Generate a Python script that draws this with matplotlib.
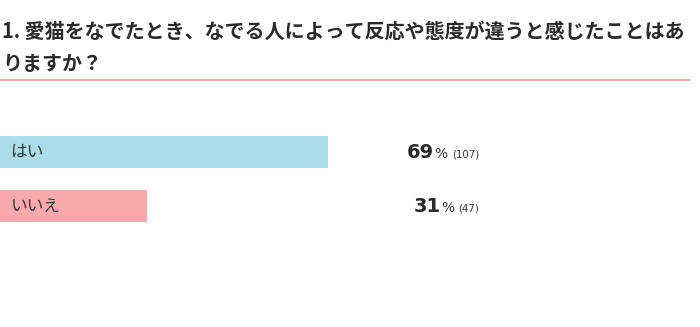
import matplotlib
matplotlib.use("Agg")
import matplotlib.pyplot as plt
from matplotlib.lines import Line2D

plt.rcParams['font.family'] = ['Noto Sans CJK JP', 'DejaVu Sans']

title_line1 = "1. 愛猫をなでたとき、なでる人によって反応や態度が違うと感じたことはあ"
title_line2 = "りますか？"
categories = ["はい", "いいえ"]
percents = [69, 31]
counts = [107, 47]
colors = ["#aadcea", "#f9a9ab"]

W, H = 700, 327
fig = plt.figure(figsize=(W / 100, H / 100), dpi=100)
fig.patch.set_facecolor("white")

# Title
fig.text(2 / W, 1 - 31 / H, title_line1, fontsize=14.4, fontweight="bold",
         color="#2a2a2a", va="center", ha="left")
fig.text(2 / W, 1 - 63 / H, title_line2, fontsize=14.4, fontweight="bold",
         color="#2a2a2a", va="center", ha="left")
fig.add_artist(Line2D([0, 690 / W], [1 - 80 / H, 1 - 80 / H], color="#f29a9a",
                      lw=1.2, transform=fig.transFigure))

# Bars axes: full figure, x in percent (100% = 475 px), y in pixel rows
ax = fig.add_axes([0, 0, 1, 1])
full_px = 475
ax.set_xlim(0, 100 * W / full_px)
ax.set_ylim(H, 0)
ax.axis("off")

y_pos = [152 + 54 * i for i in range(len(categories))]
ax.barh(y_pos, percents, height=32, color=colors, align="center")

for y, cat in zip(y_pos, categories):
    ax.text(2.2, y + 5, cat, fontsize=12, color="#333333", va="baseline", ha="left")

fig.canvas.draw()
renderer = fig.canvas.get_renderer()
right_px = 479

def px_to_x(px):
    return px * (100 * W / full_px) / W

for y, p, c in zip(y_pos, percents, counts):
    x = right_px
    base = y + 5.5
    t3 = ax.text(px_to_x(x), base, f"({c})", fontsize=7.3, color="#333333",
                 va="baseline", ha="right", family="DejaVu Sans")
    w3 = t3.get_window_extent(renderer).width
    x -= w3 + 4
    t2 = ax.text(px_to_x(x), base, "%", fontsize=10, color="#333333",
                 va="baseline", ha="right", family="DejaVu Sans")
    w2 = t2.get_window_extent(renderer).width
    x -= w2 + 0.5
    ax.text(px_to_x(x), base, f"{p}", fontsize=14, fontweight="bold",
            color="#2a2a2a", va="baseline", ha="right", family="DejaVu Sans")

fig.savefig("out.png", dpi=100, facecolor="white")
